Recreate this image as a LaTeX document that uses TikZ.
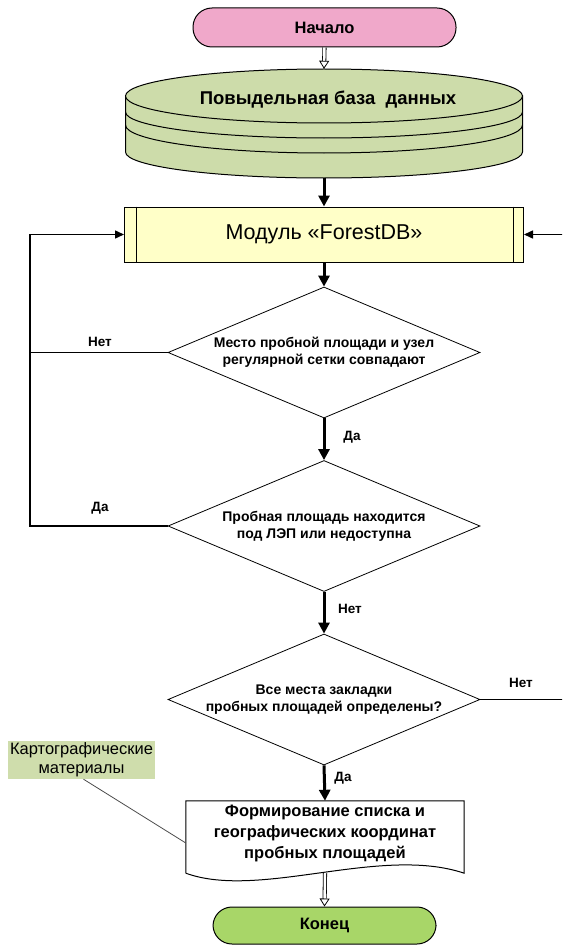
\documentclass[tikz,border=0pt]{standalone}
\usepackage{fontspec}
\setmainfont{Liberation Sans}
\usetikzlibrary{arrows.meta,shapes.geometric}
\definecolor{pinkfill}{RGB}{240,168,202}
\definecolor{greenfill}{RGB}{168,214,104}
\definecolor{dbfill}{RGB}{205,220,170}
\definecolor{modfill}{RGB}{255,255,200}
\definecolor{cartofill}{RGB}{207,221,172}
\begin{document}
\begin{tikzpicture}[x=1pt,y=-1pt,
  terminal/.style={draw, line width=1pt, rounded corners=19pt, minimum width=263pt, minimum height=39pt, inner sep=0pt, font=\bfseries\fontsize{16.5}{19}\selectfont},
  decision/.style={diamond, aspect=2.38, draw, line width=0.8pt, minimum width=312pt, minimum height=131pt, inner sep=0pt, align=center, font=\bfseries\fontsize{14}{17}\selectfont},
  flow/.style={line width=3pt, -{Triangle[length=11pt,width=11pt]}},
  loopline/.style={line width=1.5pt},
  looparrow/.style={line width=1.5pt, -{Triangle[length=9pt,width=8pt]}},
  hollow/.style={draw=black, line width=0.8pt, double=white, double distance=2.5pt, -{Triangle[open, length=8pt, width=10pt]}},
  lbl/.style={font=\bfseries\fontsize{13.5}{16}\selectfont, inner sep=0pt},
  edge1/.style={line width=1pt}
]
\useasboundingbox (0,0) rectangle (562,947);
\clip (0,0) rectangle (562,947);

% start
\node[terminal, fill=pinkfill] (start) at (324.5,27.5) {Начало};

% database
\node[minimum width=397pt, minimum height=109pt, inner sep=0pt] (db) at (324,123.5) {};
\filldraw[edge1, fill=dbfill] (125.5,96) -- (125.5,152) arc[start angle=180, end angle=0, x radius=198.5, y radius=26] -- (522.5,96) -- cycle;
\draw[edge1] (125.5,112) arc[start angle=180, end angle=0, x radius=198.5, y radius=26];
\draw[edge1] (125.5,125) arc[start angle=180, end angle=0, x radius=198.5, y radius=28];
\filldraw[edge1, fill=dbfill] (324,96) ellipse[x radius=198.5, y radius=27];
\node[font=\bfseries\fontsize{18.5}{21}\selectfont, inner sep=0pt] (dbtext) at (328,100) {Повыдельная база\ \ данных};

% module
\node[draw, edge1, fill=modfill, minimum width=399pt, minimum height=55pt, inner sep=0pt, font=\fontsize{21.5}{25}\selectfont] (mod) at (324,234.5) {Модуль «ForestDB»};
\draw[edge1] ([xshift=12pt]mod.north west) -- ([xshift=12pt]mod.south west);
\draw[edge1] ([xshift=-11pt]mod.north east) -- ([xshift=-11pt]mod.south east);

% decisions
\node[decision] (d1) at (324,352.5) {Место пробной площади и узел\\регулярной сетки совпадают};
\node[decision] (d2) at (324,526) {Пробная площадь находится\\под ЛЭП или недоступна};
\node[decision] (d3) at (324,699.5) {Все места закладки\\пробных площадей определены?};

% document
\node[minimum width=278pt, minimum height=72pt, inner sep=0pt] (doc) at (325,837) {};
\draw[edge1, fill=white] (doc.south west) -- (doc.north west) -- (doc.north east) -- (doc.south east) .. controls (380,845) and (260,900) .. (doc.south west);
\node[align=center, inner sep=0pt, font=\bfseries\fontsize{16.5}{21}\selectfont] (doctext) at (325,833) {Формирование списка и\\географических координат\\пробных площадей};

% end
\node[terminal, fill=greenfill, minimum width=223pt, minimum height=37pt] (fin) at (324.5,925.5) {Конец};

% cartographic materials
\node[fill=cartofill, minimum width=147pt, minimum height=38pt, inner sep=0pt, align=center, font=\fontsize{16.5}{19}\selectfont] (carto) at (81.5,760) {Картографические\\материалы};
\draw[black!70, line width=0.8pt] ([xshift=2pt]carto.south) -- ([yshift=-6pt]doc.west);

% connectors
\draw[hollow] (start.south) -- (db.north);
\draw[flow] (db.south) -- (mod.north);
\draw[flow] (mod.south) -- (d1.north);
\draw[flow] (d1.south) -- (d2.north);
\draw[flow] (d2.south) -- (d3.north);
\draw[flow] (d3.south) -- (doc.north);
\draw[hollow] (doc.south) -- (fin.north);

\coordinate (la) at (30,352.5);
\coordinate (lb) at (30,526);
\coordinate (lc) at (30,234.5);
\draw[loopline] (d1.west) -- (la);
\draw[looparrow] (d2.west) -- (lb) -- (lc) -- (mod.west);

\coordinate (ra) at (570,699.5);
\coordinate (rb) at (570,234.5);
\draw[looparrow] (d3.east) -- (ra) -- (rb) -- (mod.east);

% labels
\node[lbl] (n1) at (100,342) {Нет};
\node[lbl] (y1) at (352,437) {Да};
\node[lbl] (y2) at (100,508) {Да};
\node[lbl] (n2) at (350,609) {Нет};
\node[lbl] (n3) at (521,683) {Нет};
\node[lbl] (y3) at (343,778) {Да};
\end{tikzpicture}
\end{document}
